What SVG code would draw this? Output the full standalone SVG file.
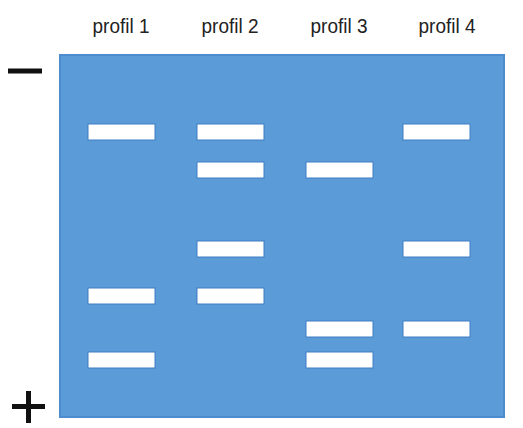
<svg xmlns="http://www.w3.org/2000/svg" width="523" height="428" viewBox="0 0 523 428">
<style>
.lbl{font-family:"Liberation Sans",Arial,sans-serif;font-size:20px;fill:#222;text-anchor:middle}
.band{fill:#ffffff;stroke:#3f7fc4;stroke-width:1}
.sign{fill:#111}
</style>
<rect width="523" height="428" fill="#ffffff"/>
<g id="labels">
<text class="lbl" x="121" y="33" textLength="57" lengthAdjust="spacingAndGlyphs">profil 1</text>
<text class="lbl" x="230" y="33" textLength="57" lengthAdjust="spacingAndGlyphs">profil 2</text>
<text class="lbl" x="339" y="33" textLength="57" lengthAdjust="spacingAndGlyphs">profil 3</text>
<text class="lbl" x="447" y="33" textLength="57" lengthAdjust="spacingAndGlyphs">profil 4</text>
</g>
<g id="gel">
<rect x="60" y="55" width="444" height="362" fill="#5b9bd8" stroke="#4c8ccf" stroke-width="2"/>
</g>
<g id="signs">
<rect class="sign" x="8" y="68.5" width="34" height="5"/>
<rect class="sign" x="12" y="404" width="33" height="5"/>
<rect class="sign" x="26" y="391" width="5" height="32"/>
</g>
<g id="lane1">
<rect class="band" x="88" y="124" width="67" height="16"/>
<rect class="band" x="88" y="288" width="67" height="16"/>
<rect class="band" x="88" y="352" width="67" height="16"/>
</g>
<g id="lane2">
<rect class="band" x="197" y="124" width="67" height="16"/>
<rect class="band" x="197" y="162" width="67" height="16"/>
<rect class="band" x="197" y="241" width="67" height="16"/>
<rect class="band" x="197" y="288" width="67" height="16"/>
</g>
<g id="lane3">
<rect class="band" x="306" y="162" width="67" height="16"/>
<rect class="band" x="306" y="321" width="67" height="16"/>
<rect class="band" x="306" y="352" width="67" height="16"/>
</g>
<g id="lane4">
<rect class="band" x="403" y="124" width="67" height="16"/>
<rect class="band" x="403" y="241" width="67" height="16"/>
<rect class="band" x="403" y="321" width="67" height="16"/>
</g>
</svg>
